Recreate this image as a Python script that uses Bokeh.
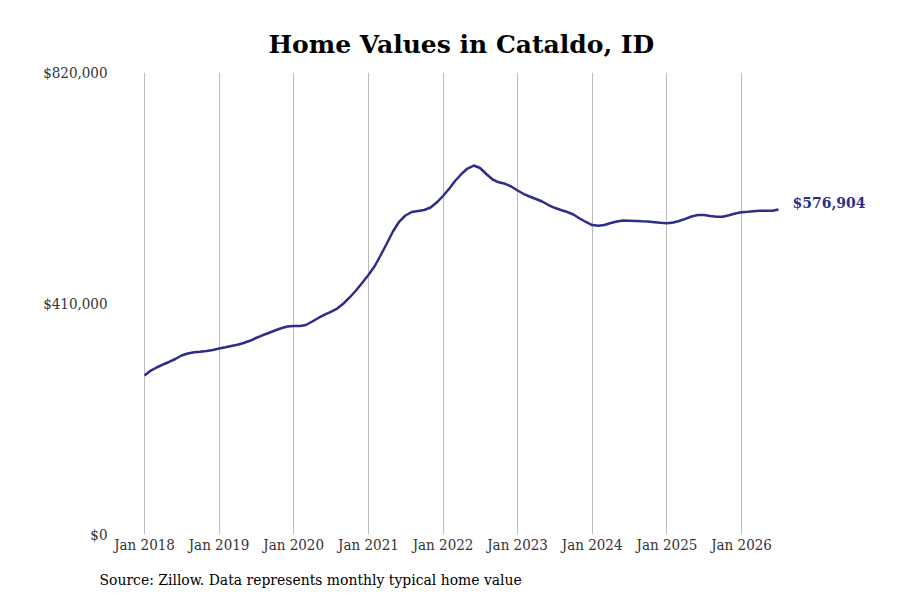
import pandas as pd
from bokeh.plotting import figure
from bokeh.models import (Range1d, FixedTicker, NumeralTickFormatter,
                          DatetimeTickFormatter, Title, Label)
from bokeh.embed import file_html
from bokeh.resources import INLINE

# ---- data ----
start_month = "2018-01-01"
home_values = [
    282200, 291000, 296400, 301700, 306200, 311500, 317700, 321300, 323600, 324500, 325700, 327500,
    330100, 332300, 334600, 336700, 339900, 343800, 348800, 353600, 357600, 362100, 366000, 369200,
    370100, 370100, 371800, 378000, 384300, 390100, 395300, 401100, 410000, 420700, 433100, 446400,
    460600, 476600, 495200, 516500, 537800, 555500, 566200, 572400, 574200, 575900, 580400, 589200,
    600800, 614100, 627400, 639800, 649600, 654900, 650500, 639800, 630100, 625100, 622400, 617700,
    610600, 604300, 599900, 595500, 591000, 584800, 579900, 575900, 572400, 568000, 560900, 554700,
    549300, 547900, 549300, 552900, 555500, 557300, 556900, 556400, 555900, 555500, 554400, 553200,
    552500, 553800, 556400, 560300, 564400, 567100, 567100, 565300, 563900, 563900, 566600, 569700,
    571900, 572800, 573800, 574700, 574700, 574700, 576904,
]
months = pd.date_range(start_month, periods=len(home_values), freq="MS")
tick_years = list(range(2018, 2027))
y_ticks = [0, 410000, 820000]
title_text = "Home Values in Cataldo, ID"
source_text = "Source: Zillow. Data represents monthly typical home value"

LINE_COLOR = "#2e2e8a"
FONT = "DejaVu Serif"
FONT_C = "DejaVu Serif Condensed"

tick_ms = [pd.Timestamp(f"{y}-01-01").timestamp() * 1000 for y in tick_years]
x_start = pd.Timestamp("2018-01-01") - pd.Timedelta(days=117.5)
x_end = pd.Timestamp("2026-01-01") + pd.Timedelta(days=680.3)

p = figure(width=884, height=600, output_backend="svg", toolbar_location=None,
           x_axis_type="datetime",
           x_range=Range1d(x_start, x_end), y_range=Range1d(0, 820000),
           min_border_left=120, min_border_right=4, min_border_top=72,
           min_border_bottom=58)
p.title = Title(text=title_text, align="left", offset=148,
                text_font=FONT, text_font_size="25px", text_font_style="bold",
                text_color="#000000", standoff=27)

p.line(months, home_values, line_color=LINE_COLOR, line_width=2.5)

end_x = months[-1].timestamp() * 1000
p.add_layout(Label(x=end_x, y=home_values[-1], text=f"${home_values[-1]:,}",
                   x_offset=14, y_offset=6, text_baseline="middle",
                   text_font=FONT, text_font_size="14px", text_font_style="bold",
                   text_color=LINE_COLOR))

p.outline_line_color = None
p.background_fill_color = "white"
p.border_fill_color = "white"

p.xaxis.ticker = FixedTicker(ticks=tick_ms)
fmt = "%b %Y"
p.xaxis.formatter = DatetimeTickFormatter(years=fmt, months=fmt, days=fmt,
                                          hours=fmt, minutes=fmt, seconds=fmt,
                                          milliseconds=fmt, microseconds=fmt)
p.yaxis.ticker = FixedTicker(ticks=y_ticks)
p.yaxis.formatter = NumeralTickFormatter(format="$0,0")

for ax in (p.xaxis[0], p.yaxis[0]):
    ax.axis_line_color = None
    ax.major_tick_line_color = None
    ax.minor_tick_line_color = None
    ax.major_tick_out = 0
    ax.major_tick_in = 0
    ax.major_label_text_font = FONT_C
    ax.major_label_text_font_size = "15px"
    ax.major_label_text_color = "#333333"
p.xaxis.major_label_standoff = 1
p.yaxis.major_label_standoff = 13

p.xgrid.grid_line_color = "#bbbbbb"
p.xgrid.grid_line_width = 1
p.ygrid.grid_line_color = None

p.add_layout(Title(text=source_text, align="left", offset=-21,
                   text_font=FONT_C, text_font_size="15.5px",
                   text_font_style="normal", text_color="#000000",
                   standoff=24), "below")

open("out.html", "w").write(file_html(p, INLINE))
